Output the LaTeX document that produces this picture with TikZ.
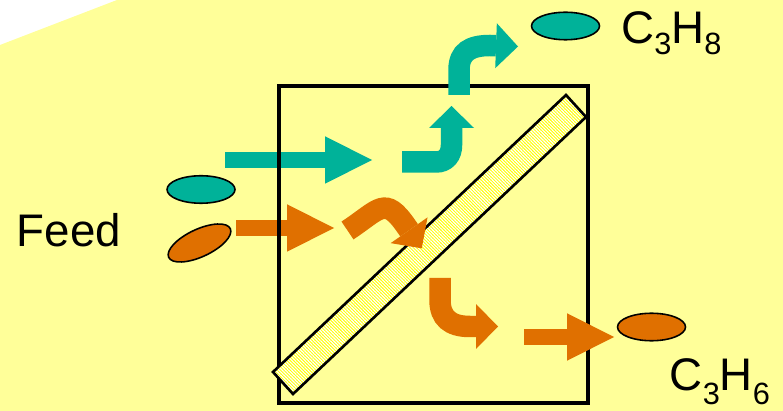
\documentclass[tikz,border=0pt]{standalone}
\usepackage{fontspec}
\setmainfont{Liberation Sans}
\usepackage{tikz}
\usetikzlibrary{arrows.meta,positioning,shapes.geometric,patterns.meta}

\definecolor{bgyellow}{RGB}{255,255,153}
\definecolor{stripyellow}{RGB}{255,255,0}
\definecolor{propteal}{RGB}{0,178,153}
\definecolor{propeneorange}{RGB}{224,112,0}

\newcommand{\lowidx}[2]{\raisebox{-#1em}{\fontsize{17.5pt}{18pt}\selectfont #2}}

\begin{document}
\begin{tikzpicture}[x=0.02cm,y=-0.02cm,
  blob/.style={ellipse,draw=black,line width=0.9pt,inner sep=0pt,minimum width=1.36cm,minimum height=0.55cm},
  bigfont/.style={font=\fontsize{26pt}{30pt}\selectfont,inner sep=0pt},
  flowA/.style={line width=0.32cm,-{Triangle[length=0.94cm,width=0.95cm,line width=0pt]}},
  flowB/.style={line width=0.43cm,-{Triangle[length=0.44cm,width=0.9cm,line width=0pt]}}]
  \useasboundingbox (0,0) rectangle (783,411);
  \fill[bgyellow] (0,45) -- (117,0) -- (783,0) -- (783,411) -- (0,411) -- cycle;

  % feed flows
  \coordinate (tA0) at (225,160);   \coordinate (tA1) at (372,160);
  \coordinate (oA0) at (236,228);   \coordinate (oA1) at (334,228);
  \draw[flowA,propteal] (tA0) -- (tA1);
  \draw[flowA,propeneorange] (oA0) -- (oA1);

  % module with membrane
  \draw[line width=2.8pt] (279,86) rectangle (588,403);
  \draw[line width=1.5pt,preaction={fill=stripyellow},
        pattern={Lines[angle=-45,distance=1.3pt,line width=0.65pt]},pattern color=white]
    (273,372) -- (566,95) -- (586,117) -- (293,394) -- cycle;

  % permeate and retentate flows
  \coordinate (tB0) at (402,162);   \coordinate (tB1) at (451.5,106);
  \coordinate (tC0) at (459,95);    \coordinate (tC1) at (518,46.5);
  \coordinate (oB0) at (347.5,230.5); \coordinate (oB1) at (421.7,248.3);
  \coordinate (oC0) at (440,278);   \coordinate (oC1) at (498,326.5);
  \coordinate (oD0) at (524,337);   \coordinate (oD1) at (614,337);
  \draw[flowB,propteal] (tB0) -- (436,162) .. controls (446,162) and (451.5,155) .. (451.5,145) -- (tB1);
  \draw[flowB,propteal] (tC0) -- (459,70) .. controls (459,52) and (470,45.5) .. (490,45.5) -- (tC1);
  \draw[flowB,propeneorange] (oB0) .. controls (380,209) and (384.7,195.2) .. (406.4,226.4) -- (oB1);
  \draw[flowB,propeneorange] (oC0) -- (440,300) .. controls (440,318) and (450,326.5) .. (470,326.5) -- (oC1);
  \draw[flowA,propeneorange] (oD0) -- (oD1);

  % molecules
  \node[blob,fill=propteal] (feedprop) at (201,189.5) {};
  \node[blob,fill=propeneorange,rotate=25] (feedpropene) at (199.5,243) {};
  \node[blob,fill=propteal] (outprop) at (565.5,26) {};
  \node[blob,fill=propeneorange] (outpropene) at (651.5,327) {};

  % labels
  \node[bigfont,anchor=base west] (feedtext) at (16.5,246.7) {Feed};
  \node[bigfont,anchor=base west] (proptext) at (621,44) {C\lowidx{0.22}{3}H\lowidx{0.22}{8}};
  \node[bigfont,anchor=base west] (propenetext) at (669.5,390.5) {C\lowidx{0.3}{3}H\lowidx{0.3}{6}};
\end{tikzpicture}
\end{document}
